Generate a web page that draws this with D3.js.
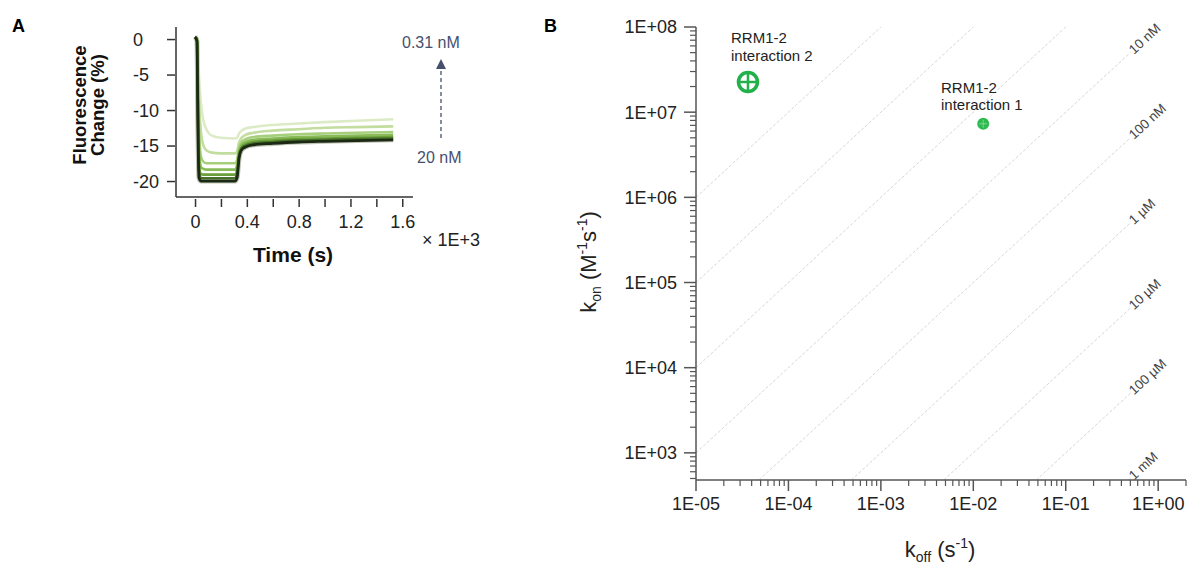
<!DOCTYPE html>
<html>
<head>
<meta charset="utf-8">
<script src="https://cdn.jsdelivr.net/npm/d3@7"></script>
<style>
  html, body { margin: 0; padding: 0; background: #fff; }
  svg { display: block; font-family: "Liberation Sans", Arial, sans-serif; }
</style>
</head>
<body>
<svg id="chart" width="1191" height="565"></svg>
<script>
// ---------------- Panel A data ----------------
const concentrations = ["0.31 nM", "0.63 nM", "1.25 nM", "2.5 nM", "5 nM", "10 nM", "20 nM"];
const traceColors = ["#dcebc6", "#c2dd9f", "#a6cf7b", "#89bc58", "#6a9f3b", "#466f28", "#1c2a14"];
const times = [0, 0.015, 0.022, 0.03, 0.045, 0.065, 0.09, 0.13, 0.2, 0.31,
               0.325, 0.34, 0.36, 0.39, 0.45, 0.6, 0.8, 1.0, 1.25, 1.53];
const trace031 = [0.3, 0.2, -1, -5, -9, -11.5, -12.8, -13.6, -13.9, -14.0,
                  -13.9, -13.3, -12.9, -12.6, -12.4, -12.1, -11.9, -11.7, -11.5, -11.3];
const trace063 = [0.3, 0.2, -2, -8, -13, -15, -15.7, -16, -16.1, -16.1,
                  -15.8, -14.6, -13.9, -13.5, -13.2, -12.9, -12.7, -12.5, -12.4, -12.3];
const trace125 = [0.3, 0.1, -4, -12, -16.5, -17.3, -17.5, -17.5, -17.5, -17.5,
                  -17.0, -15.3, -14.5, -14.1, -13.8, -13.6, -13.4, -13.3, -13.2, -13.1];
const trace25  = [0.3, 0.0, -6, -15, -18, -18.3, -18.4, -18.4, -18.4, -18.4,
                  -17.8, -15.8, -14.9, -14.5, -14.2, -14.0, -13.8, -13.7, -13.6, -13.5];
const trace5   = [0.3, 0.0, -8, -17, -19, -19.1, -19.1, -19.1, -19.1, -19.1,
                  -18.5, -16.2, -15.2, -14.8, -14.5, -14.3, -14.1, -14.0, -13.9, -13.8];
const trace10  = [0.3, -0.2, -10, -18.5, -19.6, -19.6, -19.6, -19.6, -19.6, -19.6,
                  -19.0, -16.5, -15.4, -15.0, -14.7, -14.5, -14.3, -14.2, -14.1, -14.0];
const trace20  = [0.3, -0.3, -12, -19.5, -20, -20, -20, -20, -20, -20,
                  -19.5, -16.8, -15.6, -15.2, -14.9, -14.7, -14.5, -14.4, -14.3, -14.2];
const tracesA = [trace031, trace063, trace125, trace25, trace5, trace10, trace20];
const aYTicks = [0, -5, -10, -15, -20];
const aXTicks = [0, 0.2, 0.4, 0.6, 0.8, 1.0, 1.2, 1.4, 1.6];
const aXTickLabels = ["0", "", "0.4", "", "0.8", "", "1.2", "", "1.6"];

// ---------------- Panel B data ----------------
const bXTicks = [1e-5, 1e-4, 1e-3, 1e-2, 1e-1, 1];
const bXTickLabels = ["1E-05", "1E-04", "1E-03", "1E-02", "1E-01", "1E+00"];
const bYTicks = [1e3, 1e4, 1e5, 1e6, 1e7, 1e8];
const bYTickLabels = ["1E+03", "1E+04", "1E+05", "1E+06", "1E+07", "1E+08"];
const kdValues = [1e-11, 1e-10, 1e-9, 1e-8, 1e-7, 1e-6, 1e-5, 1e-4, 1e-3];
const kdLabels = ["", "", "", "10 nM", "100 nM", "1 µM", "10 µM", "100 µM", "1 mM"];
const interactionNames = [["RRM1-2", "interaction 1"], ["RRM1-2", "interaction 2"]];
const koffValues = [0.0128, 3.65e-5];
const konValues = [7.3e6, 2.26e7];

const svg = d3.select("#chart");

// =============== PANEL A ===============
const ax = d3.scaleLinear().domain([-0.147, 1.683]).range([176, 413]);
const ay = d3.scaleLinear().domain([-22.25, 1.7]).range([197, 27]);
const gA = svg.append("g");

const lineA = d3.line().x((d, i) => ax(times[i])).y(d => ay(d)).curve(d3.curveMonotoneX);
gA.append("path").datum(trace20).attr("d", lineA)
  .attr("fill", "none").attr("stroke", "#8e957f").attr("stroke-width", 5).attr("opacity", 0.55);
tracesA.forEach((tr, k) => {
  gA.append("path").datum(tr).attr("d", lineA)
    .attr("fill", "none").attr("stroke", traceColors[k])
    .attr("stroke-width", k === 6 ? 2.8 : 2.6).attr("stroke-linejoin", "round");
});

gA.append("line").attr("x1", 176).attr("x2", 176).attr("y1", 27).attr("y2", 197)
  .attr("stroke", "#333").attr("stroke-width", 1.5);
gA.append("line").attr("x1", 176).attr("x2", 413).attr("y1", 197).attr("y2", 197)
  .attr("stroke", "#333").attr("stroke-width", 1.5);

const axA = gA.append("g").attr("transform", "translate(0,199)")
  .call(d3.axisBottom(ax).tickValues(aXTicks).tickSize(8).tickFormat((d, i) => aXTickLabels[i]));
axA.select(".domain").remove();
axA.selectAll(".tick line").attr("stroke", "#333").attr("stroke-width", 1.5);
axA.selectAll(".tick text").attr("font-size", 18).attr("fill", "#222").attr("dy", "1.0em")
  .attr("font-family", "Liberation Sans, Arial, sans-serif");

const ayA = gA.append("g").attr("transform", "translate(175,0)")
  .call(d3.axisLeft(ay).tickValues(aYTicks).tickSize(8).tickFormat(""));
ayA.select(".domain").remove();
ayA.selectAll(".tick line").attr("stroke", "#333").attr("stroke-width", 1.5);
gA.selectAll(".ylab").data(aYTicks).join("text")
  .attr("x", 133).attr("y", d => ay(d)).attr("dy", "0.36em")
  .attr("font-size", 18).attr("fill", "#222").text(d => d === 0 ? "0" : "-" + Math.abs(d));

gA.append("text").attr("x", 12).attr("y", 32).attr("font-size", 18).attr("font-weight", "bold").text("A");
gA.append("text").attr("transform", "translate(86,105) rotate(-90)").attr("text-anchor", "middle")
  .attr("font-size", 18.5).attr("font-weight", "bold").attr("fill", "#111").text("Fluorescence");
gA.append("text").attr("transform", "translate(104,105) rotate(-90)").attr("text-anchor", "middle")
  .attr("font-size", 18.5).attr("font-weight", "bold").attr("fill", "#111").text("Change (%)");
gA.append("text").attr("x", 293).attr("y", 262).attr("text-anchor", "middle")
  .attr("font-size", 21).attr("font-weight", "bold").attr("fill", "#111").text("Time (s)");
gA.append("text").attr("x", 422).attr("y", 246).attr("font-size", 18).attr("fill", "#222").text("× 1E+3");

const slate = "#46506e";
gA.append("text").attr("x", 402).attr("y", 48).attr("font-size", 16).attr("fill", slate).text(concentrations[0]);
gA.append("text").attr("x", 417).attr("y", 163).attr("font-size", 16).attr("fill", slate).text(concentrations[6]);
gA.append("line").attr("x1", 441).attr("x2", 441).attr("y1", 138).attr("y2", 68)
  .attr("stroke", slate).attr("stroke-width", 1.3).attr("stroke-dasharray", "4,3");
gA.append("path").attr("d", "M441,59 L436,69 L446,69 Z").attr("fill", slate);

// =============== PANEL B ===============
const bx = d3.scaleLog().domain([1e-5, 2]).range([696, 1186]);
const by = d3.scaleLog().domain([480, 1e8]).range([480, 27]);
const gB = svg.append("g");

const angle = Math.atan2(by(1e7) - by(1e8), bx(1) - bx(0.1)) * 180 / Math.PI;
const koffEnd = 0.5;
kdValues.forEach((kd, i) => {
  let x0 = 1e-5, y0 = x0 / kd;
  if (y0 < 480) { y0 = 480; x0 = y0 * kd; }
  let x1 = koffEnd, y1 = x1 / kd;
  if (y1 > 1e8) { y1 = 1e8; x1 = y1 * kd; }
  if (x1 <= x0) return;
  gB.append("line").attr("x1", bx(x0)).attr("y1", by(y0)).attr("x2", bx(x1)).attr("y2", by(y1))
    .attr("stroke", "#d6d6d6").attr("stroke-width", 1).attr("stroke-dasharray", "3,2");
  if (kdLabels[i]) {
    const lx = bx(koffEnd * 1.02), ly = by(koffEnd * 1.02 / kd);
    gB.append("text").attr("transform", `translate(${lx},${ly}) rotate(${-angle})`)
      .attr("font-size", 13.5).attr("fill", "#444").attr("dy", "0.3em").text(kdLabels[i]);
  }
});

const axB = gB.append("g").attr("transform", "translate(0,480)");
axB.append("line").attr("x1", 696).attr("x2", 1186).attr("stroke", "#555").attr("stroke-width", 1.5);
const minorX = [];
for (let e = -5; e <= 0; e++) for (let m = 2; m <= 9; m++) { const v = m * Math.pow(10, e); if (v <= 2) minorX.push(v); }
axB.selectAll(".mx").data(minorX).join("line").attr("x1", d => bx(d)).attr("x2", d => bx(d))
  .attr("y1", 0).attr("y2", 6).attr("stroke", "#555").attr("stroke-width", 1.2);
axB.selectAll(".Mx").data(bXTicks).join("line").attr("x1", d => bx(d)).attr("x2", d => bx(d))
  .attr("y1", 0).attr("y2", 11).attr("stroke", "#555").attr("stroke-width", 1.5);
axB.selectAll(".lx").data(bXTicks).join("text").attr("x", d => bx(d)).attr("y", 30)
  .attr("text-anchor", "middle").attr("font-size", 18).attr("fill", "#222")
  .text((d, i) => bXTickLabels[i]);

const ayB = gB.append("g").attr("transform", "translate(696,0)");
ayB.append("line").attr("y1", 27).attr("y2", 480).attr("stroke", "#555").attr("stroke-width", 1.5);
const minorY = [];
for (let e = 2; e <= 7; e++) for (let m = 2; m <= 9; m++) { const v = m * Math.pow(10, e); if (v >= 480 && v <= 1e8) minorY.push(v); }
ayB.selectAll(".my").data(minorY).join("line").attr("y1", d => by(d)).attr("y2", d => by(d))
  .attr("x1", 0).attr("x2", -6).attr("stroke", "#555").attr("stroke-width", 1.2);
ayB.selectAll(".My").data(bYTicks).join("line").attr("y1", d => by(d)).attr("y2", d => by(d))
  .attr("x1", 0).attr("x2", -12).attr("stroke", "#555").attr("stroke-width", 1.5);
ayB.selectAll(".ly").data(bYTicks).join("text").attr("x", -19).attr("y", d => by(d)).attr("dy", "0.36em")
  .attr("text-anchor", "end").attr("font-size", 18).attr("fill", "#222")
  .text((d, i) => bYTickLabels[i]);

const yt = gB.append("text").attr("transform", "translate(596,262) rotate(-90)")
  .attr("text-anchor", "middle").attr("font-size", 22).attr("fill", "#222");
yt.append("tspan").text("k");
yt.append("tspan").attr("font-size", 14).attr("dy", 5).text("on");
yt.append("tspan").attr("dy", -5).text(" (M");
yt.append("tspan").attr("font-size", 14).attr("dy", -9).text("-1");
yt.append("tspan").attr("dy", 9).text("s");
yt.append("tspan").attr("font-size", 14).attr("dy", -9).text("-1");
yt.append("tspan").attr("dy", 9).text(")");

const xt = gB.append("text").attr("x", 940).attr("y", 557)
  .attr("text-anchor", "middle").attr("font-size", 22).attr("fill", "#222");
xt.append("tspan").text("k");
xt.append("tspan").attr("font-size", 14).attr("dy", 5).text("off");
xt.append("tspan").attr("dy", -5).text(" (s");
xt.append("tspan").attr("font-size", 14).attr("dy", -9).text("-1");
xt.append("tspan").attr("dy", 9).text(")");

gB.append("text").attr("x", 544).attr("y", 32).attr("font-size", 18).attr("font-weight", "bold").text("B");

const green = "#22b04a";
{
  const cx = bx(koffValues[1]), cy = by(konValues[1]);
  gB.append("circle").attr("cx", cx).attr("cy", cy).attr("r", 9.5)
    .attr("fill", "#fff").attr("stroke", green).attr("stroke-width", 3.5);
  gB.append("line").attr("x1", cx - 8).attr("x2", cx + 8).attr("y1", cy).attr("y2", cy)
    .attr("stroke", green).attr("stroke-width", 2.5);
  gB.append("line").attr("x1", cx).attr("x2", cx).attr("y1", cy - 8).attr("y2", cy + 8)
    .attr("stroke", green).attr("stroke-width", 2.5);
  gB.append("text").attr("x", 731).attr("y", 43).attr("font-size", 15).attr("fill", "#222").text(interactionNames[1][0]);
  gB.append("text").attr("x", 731).attr("y", 61).attr("font-size", 15).attr("fill", "#222").text(interactionNames[1][1]);
}
{
  const cx = bx(koffValues[0]), cy = by(konValues[0]);
  gB.append("circle").attr("cx", cx).attr("cy", cy).attr("r", 6).attr("fill", "#2dbb4f");
  gB.append("line").attr("x1", cx - 4).attr("x2", cx + 4).attr("y1", cy).attr("y2", cy)
    .attr("stroke", "#8fdc9f").attr("stroke-width", 0.8);
  gB.append("line").attr("x1", cx).attr("x2", cx).attr("y1", cy - 4).attr("y2", cy + 4)
    .attr("stroke", "#8fdc9f").attr("stroke-width", 0.8);
  gB.append("text").attr("x", 941).attr("y", 93).attr("font-size", 15).attr("fill", "#222").text(interactionNames[0][0]);
  gB.append("text").attr("x", 941).attr("y", 110).attr("font-size", 15).attr("fill", "#222").text(interactionNames[0][1]);
}
</script>
</body>
</html>
